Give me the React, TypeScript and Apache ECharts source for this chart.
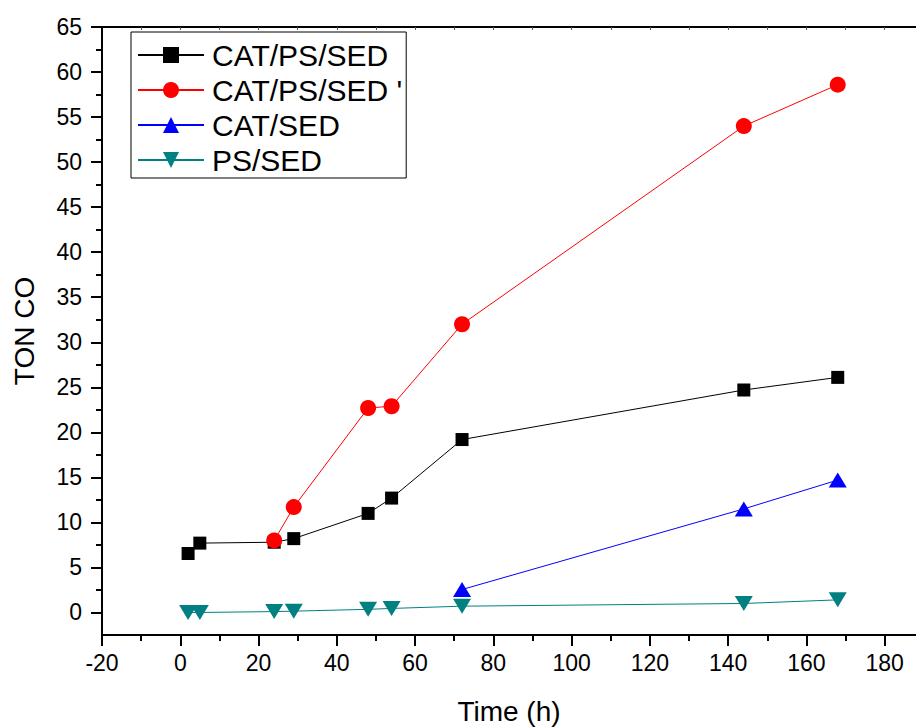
import React, { useEffect, useRef } from "react";
import * as echarts from "echarts";

const timeCatPsSed = [2, 5, 24, 29, 48, 54, 72, 144, 168];
const tonCatPsSed = [6.55, 7.7, 7.8, 8.2, 11.0, 12.7, 19.2, 24.7, 26.1];

const timeCatPsSed2 = [24, 29, 48, 54, 72, 144, 168];
const tonCatPsSed2 = [8.0, 11.7, 22.7, 22.9, 32.0, 54.0, 58.6];

const timeCatSed = [72, 144, 168];
const tonCatSed = [2.55, 11.5, 14.7];

const timePsSed = [2, 5, 24, 29, 48, 54, 72, 144, 168];
const tonPsSed = [0.0, 0.0, 0.1, 0.15, 0.35, 0.45, 0.7, 1.0, 1.4];

const seriesNames = ["CAT/PS/SED", "CAT/PS/SED '", "CAT/SED", "PS/SED"];

const xMajor = [-20, 0, 20, 40, 60, 80, 100, 120, 140, 160, 180];
const xMinor = [-10, 10, 30, 50, 70, 90, 110, 130, 150, 170];
const xTop = [-10, 0, 10, 20, 30, 40, 50, 60, 70, 80, 90, 100, 110, 120, 130, 140, 150, 160, 170, 180];
const yMajor = [0, 5, 10, 15, 20, 25, 30, 35, 40, 45, 50, 55, 60, 65];
const yMinor = [2.5, 7.5, 12.5, 17.5, 22.5, 27.5, 32.5, 37.5, 42.5, 47.5, 52.5, 57.5, 62.5];

const FONT = "'Liberation Sans', Arial, sans-serif";

function pairs(xs: number[], ys: number[]) {
  return xs.map((x, i) => [x, ys[i]]);
}

export default function App() {
  const ref = useRef<HTMLDivElement>(null);
  useEffect(() => {
    if (!ref.current) return;
    const chart = echarts.init(ref.current, undefined, { renderer: "svg" });
    const X_MIN = -20;
    const X_MAX = 188;
    const Y_MIN = -2.5;
    const Y_MAX = 65;
    const axisLine = { show: true, onZero: false, lineStyle: { color: "#000", width: 2 } };
    const hiddenLine = { show: false, onZero: false };
    const option: any = {
      animation: false,
      backgroundColor: "#fff",
      grid: { left: 102, top: 27, width: 814, height: 608, containLabel: false, outerBoundsMode: "none" },
      xAxis: [
        {
          type: "value",
          min: X_MIN,
          max: X_MAX,
          position: "bottom",
          name: "Time (h)",
          nameLocation: "middle",
          nameGap: 62,
          nameTextStyle: { fontFamily: FONT, fontSize: 28, color: "#000" },
          axisLine,
          axisTick: { show: true, inside: false, length: 11, customValues: xMajor, lineStyle: { color: "#000", width: 2 } },
          axisLabel: { show: true, customValues: xMajor, margin: 16, fontFamily: FONT, fontSize: 23, color: "#000" },
          splitLine: { show: false },
        },
        {
          type: "value",
          min: X_MIN,
          max: X_MAX,
          position: "bottom",
          axisLine: hiddenLine,
          axisTick: { show: true, inside: false, length: 6, customValues: xMinor, lineStyle: { color: "#000", width: 2 } },
          axisLabel: { show: false },
          splitLine: { show: false },
        },
        {
          type: "value",
          min: X_MIN,
          max: X_MAX,
          position: "top",
          axisLine,
          axisTick: { show: true, inside: true, length: 3, customValues: xTop, lineStyle: { color: "#555", width: 1 } },
          axisLabel: { show: false },
          splitLine: { show: false },
        },
      ],
      yAxis: [
        {
          type: "value",
          min: Y_MIN,
          max: Y_MAX,
          position: "left",
          name: "TON CO",
          nameLocation: "middle",
          nameRotate: 90,
          nameGap: 64,
          nameTextStyle: { fontFamily: FONT, fontSize: 28, color: "#000" },
          axisLine,
          axisTick: { show: true, inside: false, length: 11, customValues: yMajor, lineStyle: { color: "#000", width: 2 } },
          axisLabel: { show: true, customValues: yMajor, margin: 20, fontFamily: FONT, fontSize: 23, color: "#000" },
          splitLine: { show: false },
        },
        {
          type: "value",
          min: Y_MIN,
          max: Y_MAX,
          position: "left",
          axisLine: hiddenLine,
          axisTick: { show: true, inside: false, length: 6, customValues: yMinor, lineStyle: { color: "#000", width: 2 } },
          axisLabel: { show: false },
          splitLine: { show: false },
        },
      ],
      legend: {
        show: true,
        orient: "vertical",
        left: 131,
        top: 32,
        data: seriesNames,
        itemWidth: 66,
        itemHeight: 20,
        itemGap: 5,
        padding: [8, 4, 3, 6],
        backgroundColor: "#fff",
        borderColor: "#000",
        borderWidth: 1,
        borderRadius: 0,
        textStyle: { fontFamily: FONT, fontSize: 30, color: "#000", padding: [0, 0, 0, 3] },
      },
      series: [
        {
          name: seriesNames[0],
          type: "line",
          data: pairs(timeCatPsSed, tonCatPsSed),
          symbol: "rect",
          symbolSize: 13,
          itemStyle: { color: "#000" },
          lineStyle: { color: "#000", width: 1 },
          z: 3,
        },
        {
          name: seriesNames[1],
          type: "line",
          data: pairs(timeCatPsSed2, tonCatPsSed2),
          symbol: "circle",
          symbolSize: 16,
          itemStyle: { color: "#ff0000" },
          lineStyle: { color: "#ff0000", width: 1 },
          z: 4,
        },
        {
          name: seriesNames[2],
          type: "line",
          data: pairs(timeCatSed, tonCatSed),
          symbol: "triangle",
          symbolSize: [18, 15],
          itemStyle: { color: "#0000ff" },
          lineStyle: { color: "#0000ff", width: 1 },
          z: 5,
        },
        {
          name: seriesNames[3],
          type: "line",
          data: pairs(timePsSed, tonPsSed),
          symbol: "triangle",
          symbolRotate: 180,
          symbolSize: [18, 15],
          itemStyle: { color: "#008080" },
          lineStyle: { color: "#008080", width: 1 },
          z: 2,
        },
      ],
    };
    chart.setOption(option);
    return () => chart.dispose();
  }, []);
  return (
    <div
      ref={ref}
      style={{ position: "fixed", left: 0, top: 0, width: 916, height: 727, background: "#fff" }}
    />
  );
}
